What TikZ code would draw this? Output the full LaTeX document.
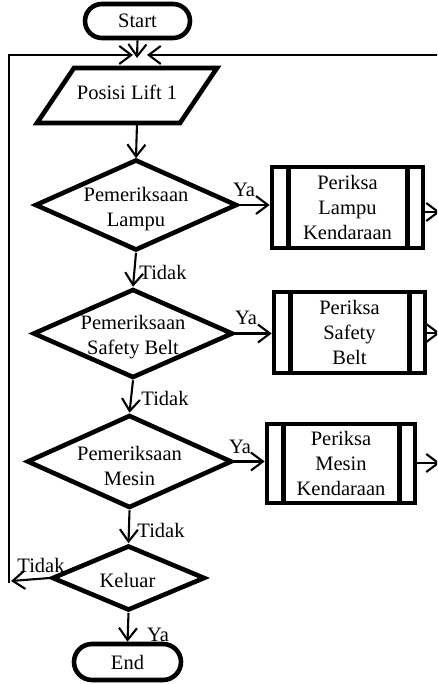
\documentclass[tikz,border=0pt]{standalone}
\usepackage{fontspec}
\setmainfont{Liberation Serif}
\usetikzlibrary{shapes.geometric,arrows.meta}
\begin{document}
\begin{tikzpicture}[x=1pt,y=-1pt,
  every node/.style={font=\fontsize{20.5}{25}\selectfont},
  thickb/.style={draw,line width=4.6pt},
  term/.style={thickb,rectangle,rounded corners=17pt,minimum width=105pt,minimum height=34pt,inner sep=0pt},
  dec/.style={thickb,diamond,inner sep=0pt},
  proc/.style={thickb,rectangle,inner sep=0pt,align=center},
  conn/.style={line width=2.1pt,-{Straight Barb[length=12pt,width=18pt,line width=2.1pt]}},
  lbl/.style={inner sep=0pt}
]
\useasboundingbox (0,0) rectangle (437,684);
\clip (0,0) rectangle (437,684);

% terminals
\node[term] (start) at (137.5,21) {Start};
\node[term,minimum width=107pt,minimum height=36pt,rounded corners=18pt] (end) at (127.5,662) {End};

% input parallelogram
\draw[line width=4.6pt] (74,68) -- (217,68) -- (180,123) -- (37,123) -- cycle;
\node[lbl] (pos) at (127,92) {Posisi Lift 1};
\coordinate (pbot) at (137,123);

% decisions
\node[dec,minimum width=202pt,minimum height=91pt,
  label={[yshift=-4pt,align=center]center:Pemeriksaan\\Lampu}] (d1) at (136,205) {};
\node[dec,minimum width=200pt,minimum height=89pt,
  label={[yshift=-4pt,align=center]center:Pemeriksaan\\Safety Belt}] (d2) at (133,333.5) {};
\node[dec,minimum width=205pt,minimum height=93pt,
  label={[yshift=-4pt,align=center]center:Pemeriksaan\\Mesin}] (d3) at (129.5,461.5) {};
\node[dec,minimum width=153pt,minimum height=65pt,
  label={[yshift=-2pt,xshift=-1pt]center:Keluar}] (d4) at (128.5,578) {};

% predefined processes
\node[proc,minimum width=151pt,minimum height=81pt] (b1) at (347.5,207.5) {Periksa\\Lampu\\Kendaraan};
\node[proc,minimum width=151pt,minimum height=81pt] (b2) at (349.5,332.5) {Periksa\\Safety\\Belt};
\node[proc,minimum width=148pt,minimum height=79pt] (b3) at (341,463.5) {Periksa\\Mesin\\Kendaraan};
\foreach \b in {b1,b2,b3}{
  \draw[line width=4.6pt] ([xshift=18.5pt]\b.north west) -- ([xshift=18.5pt]\b.south west);
  \draw[line width=4.6pt] ([xshift=-18pt]\b.north east) -- ([xshift=-18pt]\b.south east);
}

% coordinates of free ends
\coordinate (m) at (137,58);
\coordinate (tl) at (9,55);
\coordinate (ml) at (133,55);
\coordinate (tr) at (440,55);
\coordinate (mr) at (147,55);
\coordinate (lb) at (9,583);
\coordinate (kl) at (11,581);
\coordinate (r1) at (440,212);
\coordinate (r2) at (440,333);
\coordinate (r3) at (440,463);

% connectors
\draw[conn] (start.south) -- (m);
\draw[conn] (lb) -- (tl) -- (ml);
\draw[conn] (tr) -- (mr);
\draw[conn] (pbot) -- ([yshift=-1pt]d1.north);
\draw[conn] (d1.east) -- (d1.east -| b1.west);
\draw[conn] (d2.east) -- (d2.east -| b2.west);
\draw[conn] (d3.east) -- (d3.east -| b3.west);
\draw[conn] (b1.east |- r1) -- (r1);
\draw[conn] (b2.east |- r2) -- (r2);
\draw[conn] (b3.east |- r3) -- (r3);
\draw[conn] (d1.south) -- (d2.north);
\draw[conn] (d2.south) -- (d3.north);
\draw[conn] (d3.south) -- (d4.north);
\draw[conn] (d4.west) -- (kl);
\draw[conn] (d4.south) -- (end.north);

% labels
\node[lbl] (ya1) at (244,190) {Ya};
\node[lbl] (ya2) at (246,318) {Ya};
\node[lbl] (ya3) at (240,447) {Ya};
\node[lbl] (ya4) at (158,635) {Ya};
\node[lbl] (t1) at (163,272) {Tidak};
\node[lbl] (t2) at (165,398) {Tidak};
\node[lbl] (t3) at (161,530) {Tidak};
\node[lbl] (t4) at (41,565) {Tidak};
\end{tikzpicture}
\end{document}
